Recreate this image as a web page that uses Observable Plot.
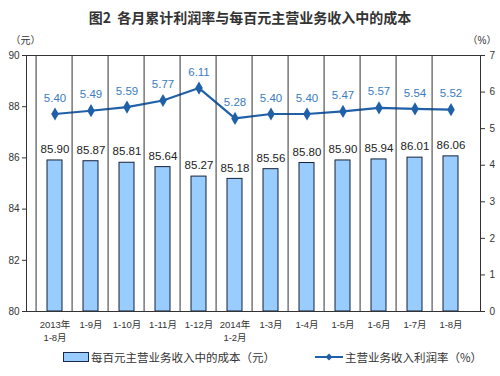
<!DOCTYPE html>
<html>
<head>
<meta charset="utf-8">
<script src="https://cdn.jsdelivr.net/npm/d3@7"></script>
<script src="https://cdn.jsdelivr.net/npm/@observablehq/plot@0.6"></script>
<style>
  body { margin: 0; background: #fff; font-family: "Noto Sans CJK SC", "Liberation Sans", sans-serif; }
  #title { height: 34px; line-height: 34px; text-align: center; font-size: 14px; font-weight: bold; color: #333; width: 500px; }
  #legend { width: 500px; height: 22px; display: flex; align-items: center; font-size: 11.5px; color: #333; }
  .sw { display: inline-block; }
</style>
</head>
<body>
<div id="title">图2&nbsp;&nbsp;各月累计利润率与每百元主营业务收入中的成本</div>
<div id="chart"></div>
<div id="legend">
  <span style="width:63px"></span>
  <span class="sw" style="width:24px;height:8px;background:#99CCFF;border:1px solid #1a2a4a;"></span>
  <span style="margin-left:2px">每百元主营业务收入中的成本（元）</span>
  <span style="width:40px"></span>
  <svg width="28" height="10"><line x1="0" y1="5" x2="28" y2="5" stroke="#2060A8" stroke-width="2"/><path d="M14,1.5 L17.5,5 L14,8.5 L10.5,5Z" fill="#2060A8"/></svg>
  <span style="margin-left:2px">主营业务收入利润率（%）</span>
</div>
<script>
const categories = ["2013年\n1-8月", "1-9月", "1-10月", "1-11月", "1-12月", "2014年\n1-2月", "1-3月", "1-4月", "1-5月", "1-6月", "1-7月", "1-8月"];
const costPerHundred = [85.90, 85.87, 85.81, 85.64, 85.27, 85.18, 85.56, 85.80, 85.90, 85.94, 86.01, 86.06];
const profitRate = [5.40, 5.49, 5.59, 5.77, 6.11, 5.28, 5.40, 5.40, 5.47, 5.57, 5.54, 5.52];
const leftTicks = [80, 82, 84, 86, 88, 90];
const rightTicks = [0, 1, 2, 3, 4, 5, 6, 7];

// map right-axis percent (0..7) onto left-axis scale (80..90)
const toLeft = v => 80 + v * 10 / 7;

const bars = categories.map((c, i) => ({cat: c, cost: costPerHundred[i]}));
const line = categories.map((c, i) => ({cat: c, rate: profitRate[i], y: toLeft(profitRate[i])}));

const blue = "#2060A8";
const width = 500, marginLeft = 26, marginRight = 20;
const step = (width - marginLeft - marginRight) / categories.length;

const chart = Plot.plot({
  width,
  height: 312,
  marginTop: 21,
  marginBottom: 35,
  marginLeft,
  marginRight,
  style: {fontFamily: "'Liberation Sans', 'Noto Sans CJK SC', sans-serif", fontSize: "10px", color: "#333"},
  x: {type: "band", domain: categories, padding: 0.57, align: 0.5, label: null},
  y: {domain: [80, 90], label: null},
  marks: [
    Plot.barY(bars, {x: "cat", y1: 80, y2: "cost", fill: "#99CCFF", stroke: "#15213a", strokeWidth: 1}),
    Plot.text(bars, {x: "cat", y: "cost", text: d => d.cost.toFixed(2), dy: -11, fill: "#222", fontSize: 11.5}),
    Plot.line(line, {x: "cat", y: "y", stroke: blue, strokeWidth: 2.2}),
    Plot.dot(line, {x: "cat", y: "y", symbol: "diamond", r: 4, fill: blue}),
    Plot.text(line, {x: "cat", y: "y", text: d => d.rate.toFixed(2), dy: -16, fill: "#3A7CC0", fontSize: 11.5}),
    Plot.axisY({ticks: leftTicks, tickSize: 4, tickPadding: 3, tickFormat: d => d, label: null, fontSize: 10}),
    Plot.axisY({anchor: "right", ticks: rightTicks.map(toLeft), tickSize: 4, tickPadding: 5, tickFormat: d => Math.round((d - 80) * 7 / 10), label: null, fontSize: 10}),
    Plot.axisX({tickSize: 0, tickPadding: 8, fontSize: 9.5, lineHeight: 1.3}),
    Plot.tickX(categories, {x: d => d, y1: 80, y2: 80.15, dx: -step / 2, stroke: "#333"}),
    Plot.frame({stroke: "#333"}),
    Plot.text(["（元）"], {frameAnchor: "top-left", dx: -16, dy: -19, fontSize: 10, fill: "#333", textAnchor: "start"}),
    Plot.text(["（%）"], {frameAnchor: "top-right", dx: 16, dy: -19, fontSize: 10, fill: "#333", textAnchor: "end"})
  ]
});
document.getElementById("chart").appendChild(chart);
</script>
</body>
</html>
